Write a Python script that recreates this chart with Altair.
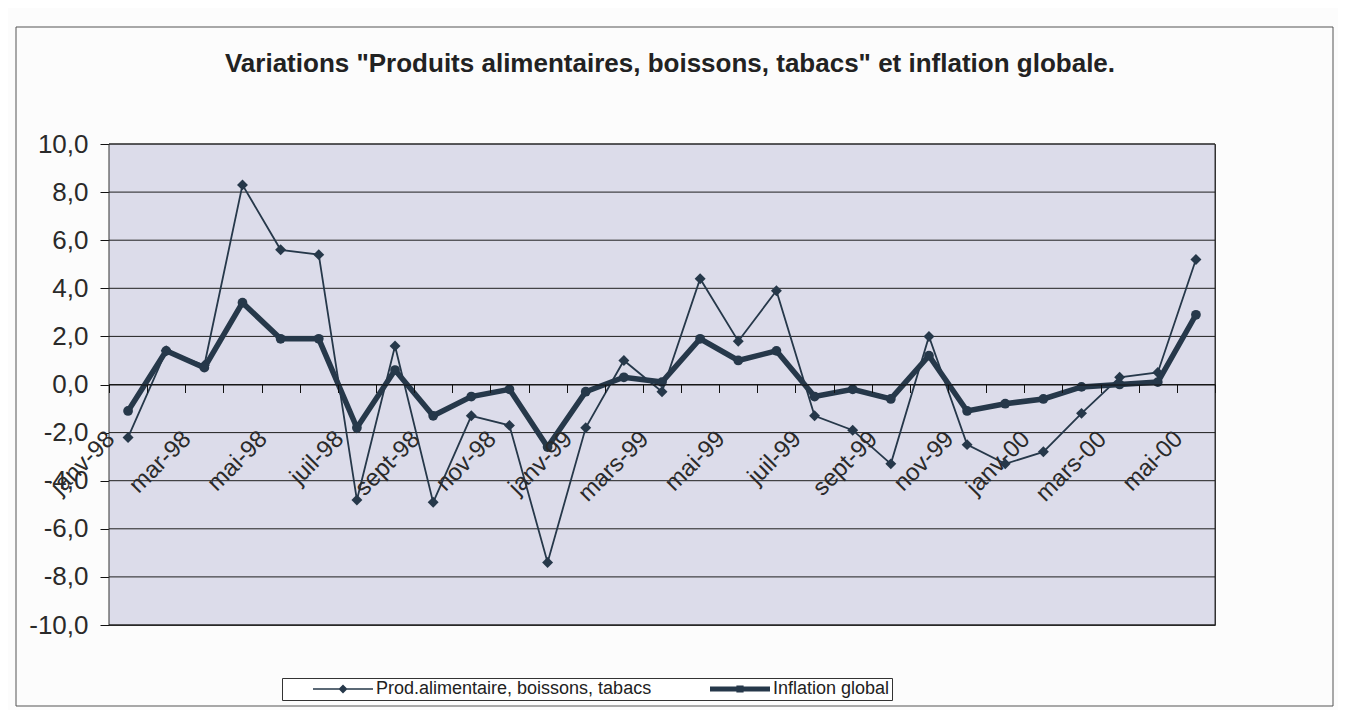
import json
import altair as alt
import pandas as pd

# ---- data ----
months = ["janv-98", "févr-98", "mar-98", "avr-98", "mai-98", "juin-98", "juil-98", "août-98",
          "sept-98", "oct-98", "nov-98", "déc-98",
          "janv-99", "févr-99", "mars-99", "avr-99", "mai-99", "juin-99", "juil-99", "août-99",
          "sept-99", "oct-99", "nov-99", "déc-99",
          "janv-00", "févr-00", "mars-00", "avr-00", "mai-00"]
prod = [-2.2, 1.4, 0.8, 8.3, 5.6, 5.4, -4.8, 1.6, -4.9, -1.3, -1.7, -7.4,
        -1.8, 1.0, -0.3, 4.4, 1.8, 3.9, -1.3, -1.9, -3.3, 2.0, -2.5, -3.3,
        -2.8, -1.2, 0.3, 0.5, 5.2]
infl = [-1.1, 1.4, 0.7, 3.4, 1.9, 1.9, -1.8, 0.6, -1.3, -0.5, -0.2, -2.6,
        -0.3, 0.3, 0.1, 1.9, 1.0, 1.4, -0.5, -0.2, -0.6, 1.2, -1.1, -0.8,
        -0.6, -0.1, 0.0, 0.1, 2.9]
shown_labels = ["janv-98", "mar-98", "mai-98", "juil-98", "sept-98", "nov-98",
                "janv-99", "mars-99", "mai-99", "juil-99", "sept-99", "nov-99",
                "janv-00", "mars-00", "mai-00"]
series = ["Prod.alimentaire, boissons, tabacs", "Inflation global"]
y_ticks = [-10, -8, -6, -4, -2, 0, 2, 4, 6, 8, 10]
title_text = 'Variations "Produits alimentaires, boissons, tabacs" et inflation globale.'

# ---- styling ----
W, H = 1106, 481
C = "#26384a"
FONT = "Liberation Sans"
Y_SCALE = alt.Scale(domain=[-10, 10], nice=False, zero=False)

df = pd.DataFrame({
    "mois": months + months,
    "valeur": prod + infl,
    "serie": [series[0]] * len(months) + [series[1]] * len(months),
})
grid_df = pd.DataFrame({"valeur": y_ticks})

x_enc = alt.X(
    "mois:N", sort=months, title=None,
    scale=alt.Scale(type="band", paddingInner=0, paddingOuter=0),
    axis=alt.Axis(
        offset=-H / 2, tickBand="extent", labelAngle=-45, labelAlign="right", labelBaseline="top",
        labelExpr="indexof(" + json.dumps(shown_labels, ensure_ascii=False) + ", datum.value) >= 0 ? datum.value : ''",
        labelFont=FONT, labelFontSize=24, labelColor="#2a2a2a", labelPadding=34, labelOverlap=False,
        labelOffset=-26,
        tickSize=8, tickColor="#111111", domainColor="#111111", grid=False, zindex=1,
    ),
)
y_enc = alt.Y(
    "valeur:Q", title=None, scale=Y_SCALE,
    axis=alt.Axis(
        values=y_ticks,
        labelExpr="replace(replace(format(datum.value, '.1f'), '.', ','), '\u2212', '-')",
        labelFont=FONT, labelFontSize=26, labelColor="#2a2a2a", labelPadding=12,
        tickSize=9, tickColor="#111111", domainColor="#111111", grid=False,
    ),
)

# plot background and outer chart frame (decoration)
plot_bg = alt.Chart(pd.DataFrame({"k": [0]})).mark_rect(
    fill="#dcdcea", stroke="#333333", strokeWidth=1
).encode(x=alt.value(0), x2=alt.value(W), y=alt.value(0), y2=alt.value(H))

frame = alt.Chart(pd.DataFrame({"k": [0]})).mark_rect(
    fill="transparent", stroke="#555555", strokeWidth=1
).encode(x=alt.value(-93), x2=alt.value(1224), y=alt.value(-117), y2=alt.value(562))

grid = alt.Chart(grid_df).mark_rule(color="#1e1e1e", strokeWidth=1).encode(y=y_enc)

base = alt.Chart(df).encode(x=x_enc, y=y_enc)
prod_base = base.transform_filter(alt.datum.serie == series[0])
infl_base = base.transform_filter(alt.datum.serie == series[1])

prod_line = prod_base.mark_line(color=C, strokeWidth=1.8)
prod_pts = prod_base.mark_point(shape="diamond", filled=True, size=120, color=C, opacity=1)
infl_line = infl_base.mark_line(color=C, strokeWidth=5.5)
infl_pts = infl_base.mark_point(shape="circle", filled=True, size=95, color=C, opacity=1)

# legend symbols: line + marker drawn as custom symbol paths
sym_prod = "M-3.75,-0.09H3.75V0.09H-3.75Z M0,-0.56L0.56,0L0,0.56L-0.56,0Z"
sym_infl = "M-3.75,-0.31H3.75V0.31H-3.75Z M-0.45,-0.45H0.45V0.45H-0.45Z"

legend_layer = alt.Chart(df).transform_filter("false").mark_point(
    filled=True, opacity=1, color=C
).encode(
    shape=alt.Shape(
        "serie:N",
        scale=alt.Scale(domain=series, range=[sym_prod, sym_infl]),
        legend=alt.Legend(
            title=None, orient="none", legendX=173, legendY=534, direction="horizontal",
            symbolSize=256, symbolOffset=50, labelOffset=24, columnPadding=29, padding=2,
            symbolStrokeWidth=0, symbolFillColor=C, symbolOpacity=1,
            strokeColor="#333333", fillColor="#ffffff",
            labelFont=FONT, labelFontSize=18, labelColor="#222222", labelLimit=500,
            labelExpr="datum.label == 'Inflation global' ? datum.label + '\u2003\u2003' : datum.label",
        ),
    )
)

chart = alt.layer(frame, plot_bg, grid, prod_line, prod_pts, infl_line, infl_pts, legend_layer).properties(
    width=W, height=H,
    title=alt.TitleParams(
        title_text, font=FONT, fontSize=26, fontWeight="bold", color="#222222",
        anchor="middle", baseline="alphabetic", offset=-71, dx=8,
    ),
    autosize=alt.AutoSizeParams(type="none"),
    padding={"left": 101, "top": 136, "right": 123, "bottom": 85},
    background="#fcfcfc",
).configure_view(fill="#dcdcea", stroke="#333333", strokeWidth=1)

chart.save("out.html", embed_options={"renderer": "svg", "actions": False})
